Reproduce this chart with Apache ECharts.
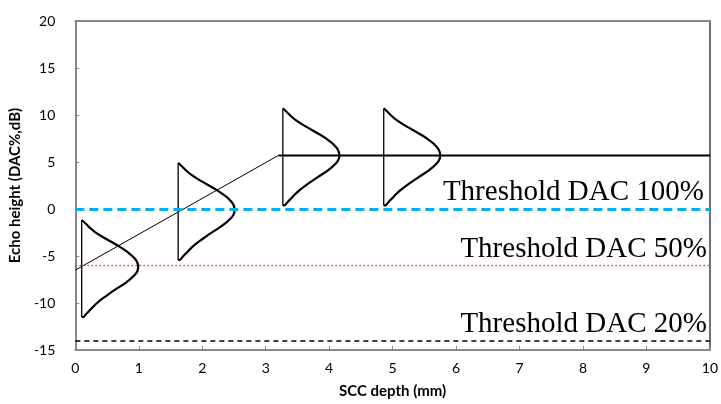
<!DOCTYPE html>
<html><head><meta charset="utf-8">
<script src="https://cdn.jsdelivr.net/npm/echarts@6/dist/echarts.min.js"></script>
<style>html,body{margin:0;padding:0;background:#fff}#c{width:721px;height:404px}</style>
</head><body><div id="c"></div>
<script>
// Axis ticks
const xTicks = [0,1,2,3,4,5,6,7,8,9,10];
const yTicks = [-15,-10,-5,0,5,10,15,20];
// Threshold levels (dB) and labels
const thresholdLevels = [0, -6, -14];
const thresholdLabels = ['Threshold DAC 100%', 'Threshold DAC 50%', 'Threshold DAC 20%'];
// DAC curve: sloped part then flat part
const dacX = [0, 3.2, 10];
const dacY = [-6.5, 5.7, 5.7];
// Echo distributions: baseline depth and centre height
const echoBaseX = [0.1, 1.62, 3.27, 4.86];
const echoCenterY = [-6.17, -0.1, 5.7, 5.7];
// Bell shape: height offset (dB) and depth offset (mm)
const shapeDy = [5.0, 4.7, 4.3, 3.72, 3.01, 2.31, 1.6, 0.88, 0.4, 0, -0.4, -0.88, -1.6, -2.31, -3.01, -3.72, -4.44, -5.0, -5.32];
const shapeDx = [0.01, 0.05, 0.11, 0.21, 0.38, 0.56, 0.72, 0.84, 0.88, 0.89, 0.88, 0.83, 0.71, 0.55, 0.40, 0.26, 0.15, 0.07, 0.02];

const chart = echarts.init(document.getElementById('c'));
const axisGray = '#878787';
const series = [];

const thStyles = [
  {color:'#00b0f0', width:3, type:[9,5]},
  {color:'#d0504a', width:1.3, type:[2,2]},
  {color:'#000', width:1.5, type:[5,4]}
];
const thPad = [4, 1, 1];
thresholdLevels.forEach((lv,i)=>{
  series.push({
    type:'line', data:[], symbol:'none', silent:true, z:2,
    markLine:{
      symbol:'none', silent:true, animation:false,
      lineStyle:thStyles[i],
      emphasis:{disabled:true},
      data:[{yAxis:lv}],
      label:{show:true, position:'insideEndTop', formatter:thresholdLabels[i], distance:2,
        padding:[0,thPad[i],0,0],
        fontFamily:'Liberation Serif', fontSize:29, color:'#000'}
    }
  });
});

series.push({type:'line', data:[[dacX[0],dacY[0]],[dacX[1],dacY[1]]], symbol:'none', lineStyle:{color:'#000', width:1}, z:3});
series.push({type:'line', data:[[dacX[1],dacY[1]],[dacX[2],dacY[2]]], symbol:'none', lineStyle:{color:'#000', width:2}, z:3});

echoBaseX.forEach((bx,i)=>{
  const cy = echoCenterY[i];
  const pts = [[bx, cy+shapeDy[0]]].concat(shapeDy.map((dy,k)=>[bx+shapeDx[k], cy+dy]));
  pts.push([bx, cy+shapeDy[shapeDy.length-1]]);
  series.push({type:'line', data:pts, symbol:'none', smooth:0.5, lineStyle:{color:'#000', width:2.2}, z:4});
  series.push({type:'line', data:[[bx, cy+shapeDy[0]],[bx, cy+shapeDy[shapeDy.length-1]]], symbol:'none', lineStyle:{color:'#000', width:1.3}, z:4});
});

chart.setOption({
  animation:false,
  grid:{left:74, right:9, top:21, bottom:54},
  xAxis:[{
    type:'value', min:xTicks[0], max:xTicks[xTicks.length-1], interval:1,
    name:'SCC depth (mm)', nameLocation:'middle', nameGap:34,
    nameTextStyle:{fontFamily:'Lato', fontWeight:'bold', fontSize:15, color:'#000'},
    axisLine:{onZero:false, lineStyle:{color:axisGray, width:2}},
    axisTick:{inside:true, length:4, lineStyle:{color:axisGray, width:1}},
    axisLabel:{fontFamily:'Lato', fontSize:14, color:'#000', margin:11},
    splitLine:{show:false}
  },{
    type:'value', position:'top', min:0, max:10,
    axisLine:{show:true, onZero:false, lineStyle:{color:axisGray, width:2}},
    axisTick:{show:false}, axisLabel:{show:false}, splitLine:{show:false}
  }],
  yAxis:[{
    type:'value', min:yTicks[0], max:yTicks[yTicks.length-1], interval:5,
    name:'Echo height (DAC%,dB)', nameLocation:'middle', nameGap:44,
    nameTextStyle:{fontFamily:'Lato', fontWeight:'bold', fontSize:15, color:'#000'},
    axisLine:{show:true, onZero:false, lineStyle:{color:axisGray, width:2}},
    axisTick:{show:true, inside:true, length:4, lineStyle:{color:axisGray, width:1}},
    axisLabel:{fontFamily:'Lato', fontSize:14, color:'#000', margin:20},
    splitLine:{show:false}
  },{
    type:'value', position:'right', min:-15, max:20,
    axisLine:{show:true, onZero:false, lineStyle:{color:'#404040', width:1.5}},
    axisTick:{show:false}, axisLabel:{show:false}, splitLine:{show:false}
  }],
  series: series
});
</script></body></html>
